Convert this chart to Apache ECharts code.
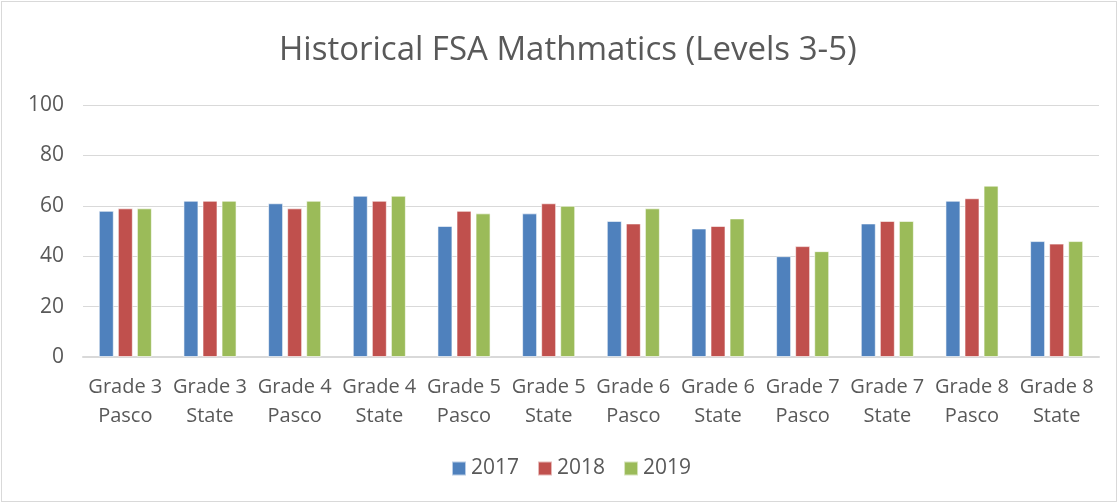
<!DOCTYPE html>
<html>
<head>
<meta charset="utf-8">
<script src="https://cdn.jsdelivr.net/npm/echarts@6/dist/echarts.min.js"></script>
<style>
  html, body { margin: 0; padding: 0; background: #fff; }
  #chart { position: absolute; left: 1px; top: 1px; width: 1114px; height: 499px; border: 1px solid #d9d9d9; }
</style>
</head>
<body>
<div id="chart"></div>
<script>
const categories = [
  "Grade 3\nPasco", "Grade 3\nState", "Grade 4\nPasco", "Grade 4\nState",
  "Grade 5\nPasco", "Grade 5\nState", "Grade 6\nPasco", "Grade 6\nState",
  "Grade 7\nPasco", "Grade 7\nState", "Grade 8\nPasco", "Grade 8\nState",
];
const values2017 = [58, 62, 61, 64, 52, 57, 54, 51, 40, 53, 62, 46];
const values2018 = [59, 62, 59, 62, 58, 61, 53, 52, 44, 54, 63, 45];
const values2019 = [59, 62, 62, 64, 57, 60, 59, 55, 42, 54, 68, 46];
const yTicks = [0, 20, 40, 60, 80, 100];

const fontFamily = "'Open Sans', 'Liberation Sans', sans-serif";
const textColor = "#595959";

const myChart = echarts.init(document.getElementById("chart"), null, { renderer: "canvas" });

const barSeries = (name, data, color) => ({
  name,
  type: "bar",
  data,
  barWidth: 15,
  barGap: "27%",
  itemStyle: { color, borderColor: "rgba(255,255,255,0.6)", borderWidth: 1 },
});

myChart.setOption({
  animation: false,
  title: {
    text: "Historical FSA Mathmatics (Levels 3-5)",
    left: 272,
    top: 27,
    textStyle: { color: textColor, fontFamily, fontSize: 33, fontWeight: "normal" },
  },
  legend: {
    bottom: 17,
    left: 444,
    itemWidth: 14,
    itemHeight: 14,
    itemGap: 18,
    icon: "rect",
    textStyle: { color: textColor, fontFamily, fontSize: 21 },
    data: ["2017", "2018", "2019"],
  },
  grid: { left: 81, right: 17, top: 103, bottom: 144 },
  xAxis: {
    type: "category",
    data: categories,
    axisTick: { show: false },
    axisLine: { lineStyle: { color: "#d9d9d9", width: 2 } },
    axisLabel: { color: textColor, fontFamily, fontSize: 20, lineHeight: 29, margin: 16, interval: 0 },
  },
  yAxis: {
    type: "value",
    min: yTicks[0],
    max: yTicks[yTicks.length - 1],
    interval: yTicks[1] - yTicks[0],
    axisLine: { show: false },
    axisTick: { show: false },
    axisLabel: { color: textColor, fontFamily, fontSize: 21, margin: 19 },
    splitLine: { lineStyle: { color: "#d9d9d9", width: 1 } },
  },
  series: [
    barSeries("2017", values2017, "#4f81bd"),
    barSeries("2018", values2018, "#c0504d"),
    barSeries("2019", values2019, "#9bbb59"),
  ],
});
</script>
</body>
</html>
